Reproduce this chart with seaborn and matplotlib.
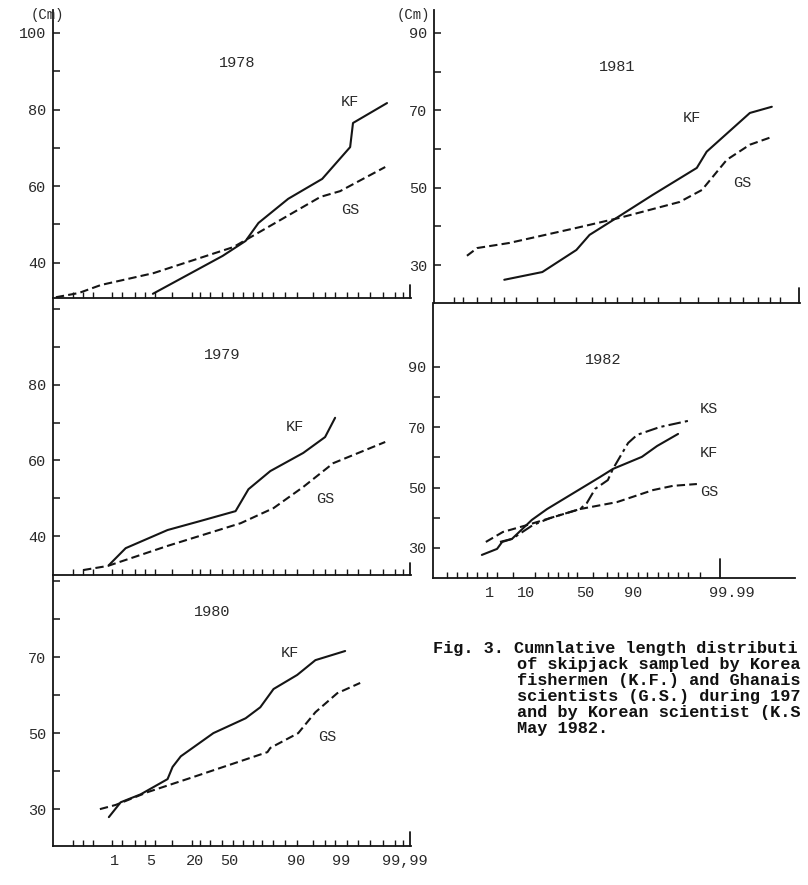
import matplotlib
matplotlib.use("Agg")
import matplotlib.pyplot as plt
import pandas as pd
import seaborn as sns

# ---------------- data (x = position on probability paper, 0-100; y = length, cm)
x78_kf = [27.9, 47.4, 53.8, 57.4, 65.7, 75.2, 83.0, 83.8, 93.3]
y78_kf = [31.9, 41.8, 45.7, 50.4, 56.7, 61.9, 70.2, 76.5, 81.7]
x78_gs = [0.8, 7.2, 13.4, 28.1, 50.4, 74.7, 80.2, 92.8]
y78_gs = [31.0, 32.1, 34.2, 37.3, 44.1, 57.2, 58.7, 65.0]

x79_kf = [15.6, 20.3, 32.0, 41.2, 51.0, 54.6, 60.7, 69.9, 76.0, 78.8]
y79_kf = [32.3, 36.8, 41.6, 44.0, 46.6, 52.4, 57.2, 62.0, 66.2, 71.3]
x79_gs = [8.4, 15.3, 32.0, 52.4, 61.6, 69.9, 78.3, 92.8]
y79_gs = [31.0, 32.1, 37.4, 43.4, 47.4, 53.0, 59.3, 64.9]

x80_kf = [15.6, 18.9, 24.5, 32.0, 33.4, 35.7, 44.8, 53.8, 57.9, 61.6, 68.2, 73.3, 81.6]
y80_kf = [27.9, 31.8, 33.9, 37.9, 41.1, 43.9, 50.0, 53.9, 56.8, 61.6, 65.3, 69.2, 71.6]
x80_gs = [13.1, 17.5, 26.5, 38.4, 59.9, 60.7, 68.5, 73.3, 79.4, 85.8]
y80_gs = [30.0, 31.1, 34.5, 38.2, 45.0, 46.1, 50.0, 55.5, 60.5, 63.2]

x81_kf = [19.2, 29.6, 38.9, 42.5, 49.9, 59.7, 71.8, 74.5, 86.3, 92.3]
y81_kf = [26.2, 28.2, 33.9, 37.8, 42.2, 48.1, 55.1, 59.3, 69.3, 70.9]
x81_gs = [9.0, 11.8, 20.5, 38.9, 50.7, 67.1, 73.2, 80.0, 86.3, 92.3]
y81_gs = [32.4, 34.4, 35.7, 39.6, 42.2, 46.3, 49.4, 57.2, 61.1, 63.1]

x82_kf = [13.5, 17.7, 19.1, 21.8, 27.3, 31.5, 46.1, 49.7, 57.7, 61.9, 67.7]
y82_kf = [27.7, 29.7, 32.0, 33.0, 39.3, 42.9, 53.5, 56.2, 60.2, 63.8, 67.8]
x82_gs = [14.6, 19.3, 26.0, 35.1, 40.6, 50.8, 60.8, 66.3, 72.9]
y82_gs = [32.0, 35.3, 37.6, 40.9, 42.9, 45.2, 49.2, 50.6, 51.2]
x82_ks = [18.5, 21.8, 27.6, 32.3, 40.6, 42.5, 44.8, 48.3, 49.7, 53.9, 56.4, 62.7, 71.5]
y82_ks = [32.0, 33.0, 37.6, 39.9, 42.9, 44.9, 49.6, 52.5, 56.2, 64.8, 67.5, 70.1, 72.4]

# tick labels
xlab80_pos = [17.3, 27.3, 39.6, 49.3, 68.0, 80.5, 98.3]
xlab80 = ["1", "5", "20", "50", "90", "99", "99,99"]
xlab82_pos = [15.5, 25.7, 42.0, 55.2, 82.6]
xlab82 = ["1", "10", "50", "90", "99.99"]

# probability-paper minor tick marks
xminor_left = [5.6, 8.4, 11.2, 16.5, 19.3, 22.9, 25.7, 28.5, 33.2, 38.8, 41.1, 43.9,
               47.2, 50.3, 53.1, 55.9, 58.4, 61.5, 64.8, 68.2, 72.6, 76.0, 78.8,
               82.1, 85.2, 88.5, 92.2, 95.5, 97.8]
xminor_81 = [5.5, 7.9, 11.8, 15.6, 19.2, 22.5, 28.2, 32.9, 38.9, 43.3, 46.6, 50.1,
             54.0, 57.5, 61.1, 67.1, 72.1, 77.5, 80.8, 84.4, 88.5, 91.8, 94.5]
xminor_82 = [3.9, 6.6, 9.4, 12.2, 14.9, 17.7, 22.1, 28.2, 31.8, 34.5, 37.3, 39.8,
             42.0, 44.2, 48.1, 51.1, 53.6, 56.6, 59.1, 62.2, 64.9, 67.7, 70.4, 73.8]

# caption as visible in the reference (it runs off the page edge there)
caption = ["Fig. 3. Cumnlative length distributi",
           "of skipjack sampled by Korea",
           "fishermen (K.F.) and Ghanais",
           "scientists (G.S.) during 197",
           "and by Korean scientist (K.S",
           "May 1982."]

# ---------------- style
sns.set_theme(style="ticks")
plt.rcParams['font.family'] = ['Liberation Mono', 'DejaVu Sans Mono']
INK = '#151515'
TXT = '#2a2a2a'

W, H = 808, 885
fig = plt.figure(figsize=(W / 100, H / 100), dpi=100)
fig.patch.set_facecolor('white')


def add_ax(l, t, r, b):
    return fig.add_axes([l / W, 1 - b / H, (r - l) / W, (b - t) / H])


def draw(ax, xs, ys, style):
    df = pd.DataFrame({"x": xs, "y": ys})
    if style == "solid":
        kw = dict(linestyle='-')
    elif style == "dash":
        kw = dict(dashes=(4, 2))
    else:
        kw = dict(dashes=(6, 2, 1.5, 2))
    return sns.lineplot(data=df, x="x", y="y", ax=ax, color=INK, lw=1.5,
                        sort=False, estimator=None, **kw)


def setup(ax, ylim, ymaj, ymin, xminor, end_tick, end_frac, xpos=None, xlab=None):
    ax.set_xlim(0, 100)
    ax.set_ylim(*ylim)
    ax.set_facecolor('none')
    ax.grid(False)
    for s in ['top', 'right']:
        ax.spines[s].set_visible(False)
    for s in ['left', 'bottom']:
        ax.spines[s].set_linewidth(1.3)
        ax.spines[s].set_color(INK)
    ax.set_yticks(ymaj)
    ax.set_yticklabels([str(v) for v in ymaj])
    ax.set_yticks(ymin, minor=True)
    ax.tick_params(axis='y', which='both', direction='in', length=5, width=1.1,
                   color=INK, labelcolor=TXT, labelsize=11, pad=5)
    ax.set_xticks(xminor, minor=True)
    if xpos is not None:
        ax.set_xticks(xpos)
        ax.set_xticklabels(xlab)
    else:
        ax.set_xticks([])
    ax.tick_params(axis='x', which='minor', direction='in', length=4, width=1.0, color=INK)
    ax.tick_params(axis='x', which='major', length=0, labelsize=11, labelcolor=TXT, pad=6)
    ax.axvline(end_tick, 0, end_frac, color=INK, lw=1.3, clip_on=False)
    ax.set_xlabel('')
    ax.set_ylabel('')


def label(ax, x, y, s):
    ax.text(x, y, s, ha='center', va='center', fontsize=11, color=TXT)


# ---------------- panels
ax78 = add_ax(53, 10, 411, 298)
draw(ax78, x78_kf, y78_kf, "solid")
draw(ax78, x78_gs, y78_gs, "dash")
setup(ax78, (30.8, 106.0), [40, 60, 80, 100], [50, 70, 90], xminor_left, 99.8, 0.045)
label(ax78, 51.4, 92.2, "1978")
label(ax78, 83.0, 82.0, "KF")
label(ax78, 83.0, 53.8, "GS")

ax79 = add_ax(53, 298, 411, 575)
draw(ax79, x79_kf, y79_kf, "solid")
draw(ax79, x79_gs, y79_gs, "dash")
setup(ax79, (29.7, 103.0), [40, 60, 80], [50, 70, 90, 100], xminor_left, 99.8, 0.045)
label(ax79, 47.2, 87.9, "1979")
label(ax79, 67.6, 68.9, "KF")
label(ax79, 76.0, 49.8, "GS")

ax80 = add_ax(53, 575, 411, 846)
draw(ax80, x80_kf, y80_kf, "solid")
draw(ax80, x80_gs, y80_gs, "dash")
setup(ax80, (20.3, 91.6), [30, 50, 70], [40, 60, 80, 90], xminor_left, 99.8, 0.05,
      xlab80_pos, xlab80)
label(ax80, 44.4, 81.8, "1980")
label(ax80, 66.2, 71.1, "KF")
label(ax80, 76.5, 48.9, "GS")

ax81 = add_ax(434, 10, 800, 303)
draw(ax81, x81_kf, y81_kf, "solid")
draw(ax81, x81_gs, y81_gs, "dash")
setup(ax81, (20.2, 95.9), [30, 50, 70, 90], [40, 60, 80], xminor_81, 99.8, 0.05)
label(ax81, 50.0, 81.2, "1981")
label(ax81, 70.5, 68.0, "KF")
label(ax81, 84.2, 51.2, "GS")

ax82 = add_ax(433, 303, 795, 578)
draw(ax82, x82_kf, y82_kf, "solid")
draw(ax82, x82_gs, y82_gs, "dash")
draw(ax82, x82_ks, y82_ks, "dashdot")
setup(ax82, (20.05, 111.2), [30, 50, 70, 90], [40, 60, 80], xminor_82, 79.3, 0.07,
      xlab82_pos, xlab82)
label(ax82, 47.0, 92.3, "1982")
label(ax82, 76.2, 76.1, "KS")
label(ax82, 76.2, 61.5, "KF")
label(ax82, 76.2, 48.6, "GS")

# unit labels
fig.text(47 / W, 1 - 15 / H, "(Cm)", ha='center', va='center', fontsize=10, color=TXT)
fig.text(413 / W, 1 - 15 / H, "(Cm)", ha='center', va='center', fontsize=10, color=TXT)

# caption
cap_x = [433, 517, 517, 517, 517, 517]
cap_y = [648, 665, 681, 697, 713, 729]
for cx, cy, line in zip(cap_x, cap_y, caption):
    fig.text(cx / W, 1 - cy / H, line, ha='left', va='center', fontsize=12.2,
             fontweight='bold', color='#111')

fig.savefig("out.png", dpi=100)
